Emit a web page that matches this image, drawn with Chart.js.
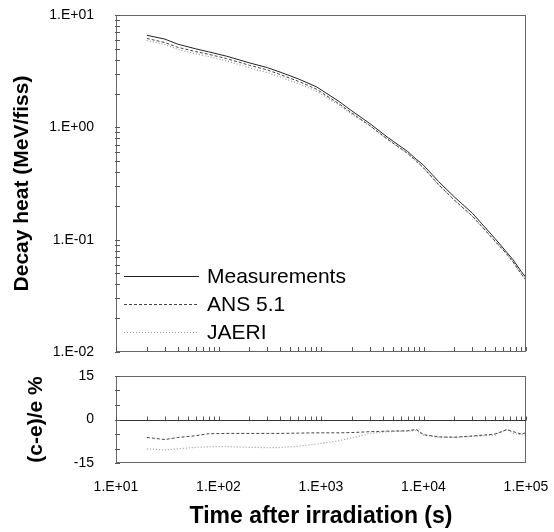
<!DOCTYPE html>
<html lang="en">
<head>
<meta charset="UTF-8">
<title>Decay heat after irradiation</title>
<script src="https://cdn.jsdelivr.net/npm/chart.js"></script>
<style>
  body { margin: 0; background: #fff; }
  #wrap { position: relative; width: 554px; height: 532px; }
  #heatCanvas { position: absolute; left: 0; top: 0; }
  #devCanvas { position: absolute; left: 0; top: 360px; }
</style>
</head>
<body>
<div id="wrap">
  <canvas id="heatCanvas" width="554" height="370" style="width:554px;height:370px"></canvas>
  <canvas id="devCanvas" width="554" height="172" style="width:554px;height:172px"></canvas>
</div>
<script>
// time after irradiation (s)
const times = [20, 30, 40, 60, 80, 120, 200, 300, 400, 600, 900, 1500, 2000, 3000, 4500, 7000, 8500, 10000, 14000, 20000, 30000, 50000, 65000, 75000, 90000, 100000];
// decay heat (MeV/fiss)
const measured = [6.6, 6.1, 5.5, 5.0, 4.7, 4.3, 3.75, 3.4, 3.1, 2.7, 2.3, 1.7, 1.4, 1.08, 0.81, 0.61, 0.52, 0.46, 0.33, 0.24, 0.172, 0.102, 0.077, 0.066, 0.052, 0.046];
const ans51 = [6.19, 5.68, 5.16, 4.72, 4.47, 4.09, 3.57, 3.24, 2.95, 2.57, 2.19, 1.62, 1.34, 1.035, 0.778, 0.586, 0.502, 0.436, 0.310, 0.225, 0.162, 0.097, 0.0743, 0.0632, 0.0494, 0.0439];
const jaeri = [5.93, 5.46, 4.94, 4.52, 4.26, 3.90, 3.39, 3.07, 2.80, 2.45, 2.10, 1.58, 1.31, 1.03, 0.776, 0.586, 0.500, 0.435, 0.310, 0.225, 0.162, 0.0965, 0.0745, 0.0628, 0.0492, 0.0437];
// (c-e)/e in %
const ansDev = [-6.2, -6.9, -6.2, -5.6, -4.9, -4.8, -4.8, -4.8, -4.8, -4.7, -4.6, -4.6, -4.5, -4.2, -4.0, -3.9, -3.4, -5.2, -6.0, -6.1, -5.7, -5.0, -3.5, -4.2, -5.0, -4.6];
const jaeriDev = [-10.1, -10.5, -10.1, -9.6, -9.4, -9.3, -9.6, -9.7, -9.7, -9.2, -8.5, -7.3, -6.3, -4.8, -4.2, -4.0, -3.8, -5.4, -6.1, -6.2, -5.8, -5.4, -3.3, -4.8, -5.3, -5.0];
const devTicks = [-15, -10, -5, 0, 5, 10, 15];
const devLabels = [-15, 0, 15];
const seriesNames = ['Measurements', 'ANS 5.1', 'JAERI'];

const FONT = '"Liberation Sans", Arial, sans-serif';
const styles = [
    { borderColor: '#222', borderWidth: 1, borderDash: [] },
    { borderColor: '#444', borderWidth: 1, borderDash: [3, 2] },
    { borderColor: '#999', borderWidth: 1.2, borderDash: [1, 2] }
];

function pairs(ys) {
    return times.map((t, i) => ({ x: t, y: ys[i] }));
}

// log ticks 1..9 x 10^e between two decades
function logTicks(e0, e1) {
    const out = [];
    for (let e = e0; e < e1; e++) {
        for (let m = 1; m < 10; m++) out.push({ value: Number((m * Math.pow(10, e)).toPrecision(6)) });
    }
    out.push({ value: Math.pow(10, e1) });
    return out;
}

function sciLabel(v) {
    const l = Math.log10(v);
    const e = Math.round(l);
    if (Math.abs(l - e) > 1e-9) return '';
    return '1.E' + (e < 0 ? '-' : '+') + String(Math.abs(e)).padStart(2, '0');
}

// no label overhang padding, keeps the plot box where we want it
function noPad(s) {
    s.paddingTop = 0; s.paddingBottom = 0; s.paddingLeft = 0; s.paddingRight = 0;
}

const framePlugin = {
    id: 'frame',
    afterDraw(chart) {
        const a = chart.chartArea;
        const ctx = chart.ctx;
        ctx.save();
        ctx.strokeStyle = '#666';
        ctx.lineWidth = 1;
        ctx.strokeRect(Math.round(a.left) + 0.5, Math.round(a.top) + 0.5, Math.round(a.right - a.left) - 1, Math.round(a.bottom - a.top) - 1);
        ctx.restore();
    }
};

// short tick marks pointing into the plot
const innerTicksPlugin = {
    id: 'innerTicks',
    afterDraw(chart, args, opts) {
        const a = chart.chartArea;
        const ctx = chart.ctx;
        ctx.save();
        ctx.lineWidth = 1;
        (opts.marks || []).forEach(m => {
            const s = chart.scales[m.scale];
            ctx.strokeStyle = '#555';
            ctx.beginPath();
            if (s.isHorizontal()) {
                const y0 = m.atY !== undefined ? Math.round(chart.scales.y.getPixelForValue(m.atY)) + 0.5 : Math.round(a.bottom) - 1;
                s.ticks.forEach(t => {
                    const p = Math.round(s.getPixelForValue(t.value)) + 0.5;
                    ctx.moveTo(p, y0);
                    ctx.lineTo(p, y0 - 4);
                });
                ctx.stroke();
                if (m.atY !== undefined) {
                    ctx.strokeStyle = '#333';
                    ctx.beginPath();
                    ctx.moveTo(a.left, y0);
                    ctx.lineTo(a.right, y0);
                    ctx.stroke();
                }
            } else {
                const x0 = Math.round(a.left);
                s.ticks.forEach(t => {
                    const p = Math.round(s.getPixelForValue(t.value)) + 0.5;
                    ctx.moveTo(x0 - 1, p);
                    ctx.lineTo(x0 + 4, p);
                });
                ctx.stroke();
            }
        });
        ctx.restore();
    }
};

const legendPlugin = {
    id: 'insideLegend',
    afterDraw(chart) {
        const a = chart.chartArea;
        const ctx = chart.ctx;
        ctx.save();
        ctx.font = '21px ' + FONT;
        ctx.textBaseline = 'middle';
        ctx.fillStyle = '#000';
        chart.data.datasets.forEach((ds, i) => {
            const y = a.top + 261 + i * 28;
            ctx.strokeStyle = ds.borderColor;
            ctx.lineWidth = ds.borderWidth;
            ctx.setLineDash(ds.borderDash);
            ctx.beginPath();
            ctx.moveTo(a.left + 8, y + 0.5);
            ctx.lineTo(a.left + 83, y + 0.5);
            ctx.stroke();
            ctx.setLineDash([]);
            ctx.fillText(ds.label, a.left + 91, y + 1);
        });
        ctx.restore();
    }
};

const heatChart = new Chart(document.getElementById('heatCanvas'), {
    type: 'line',
    data: {
        datasets: [measured, ans51, jaeri].map((ys, i) => Object.assign({
            label: seriesNames[i],
            data: pairs(ys),
            pointRadius: 0,
            tension: 0,
            fill: false
        }, styles[i]))
    },
    options: {
        responsive: false,
        animation: false,
        layout: { padding: { top: 15, right: 28, left: 0, bottom: 0 } },
        plugins: {
            legend: { display: false },
            tooltip: { enabled: false },
            innerTicks: { marks: [{ scale: 'x' }, { scale: 'y' }] }
        },
        scales: {
            x: {
                type: 'logarithmic',
                min: 10, max: 100000,
                afterBuildTicks: s => { s.ticks = logTicks(1, 5); },
                afterFit: s => { s.height = 18; noPad(s); },
                ticks: { display: false, autoSkip: false },
                grid: { display: false },
                border: { display: false }
            },
            y: {
                type: 'logarithmic',
                min: 0.01, max: 10,
                afterBuildTicks: s => { s.ticks = logTicks(-2, 1); },
                afterFit: s => { s.width = 116; noPad(s); },
                ticks: {
                    autoSkip: false, padding: 14, color: '#000',
                    font: { family: FONT, size: 14 },
                    callback: v => sciLabel(v)
                },
                grid: { display: false },
                border: { display: false },
                title: {
                    display: true, text: 'Decay heat (MeV/fiss)', color: '#000',
                    font: { family: FONT, size: 21, weight: 'bold' },
                    padding: { top: 10, bottom: 0 }
                }
            }
        }
    },
    plugins: [framePlugin, innerTicksPlugin, legendPlugin]
});

const devChart = new Chart(document.getElementById('devCanvas'), {
    type: 'line',
    data: {
        datasets: [ansDev, jaeriDev].map((ys, i) => Object.assign({
            label: seriesNames[i + 1],
            data: pairs(ys),
            pointRadius: 0,
            tension: 0,
            fill: false
        }, styles[i + 1]))
    },
    options: {
        responsive: false,
        animation: false,
        layout: { padding: { top: 16, right: 28, left: 0, bottom: 0 } },
        plugins: {
            legend: { display: false },
            tooltip: { enabled: false },
            innerTicks: { marks: [{ scale: 'x', atY: 0 }, { scale: 'y' }] }
        },
        scales: {
            x: {
                type: 'logarithmic',
                min: 10, max: 100000,
                afterBuildTicks: s => { s.ticks = logTicks(1, 5); },
                afterFit: s => { s.height = 69; noPad(s); },
                ticks: {
                    autoSkip: false, maxRotation: 0, padding: 8, color: '#000',
                    font: { family: FONT, size: 14 },
                    callback: v => sciLabel(v)
                },
                grid: { display: false },
                border: { display: false },
                title: {
                    display: true, text: 'Time after irradiation (s)', color: '#000',
                    font: { family: FONT, size: 23, weight: 'bold' },
                    padding: { top: 0, bottom: 2 }
                }
            },
            y: {
                min: -15, max: 15,
                afterBuildTicks: s => { s.ticks = devTicks.map(v => ({ value: v })); },
                afterFit: s => { s.width = 116; noPad(s); },
                ticks: {
                    autoSkip: false, padding: 14, color: '#000',
                    font: { family: FONT, size: 14 },
                    callback: v => devLabels.includes(v) ? String(v) : ''
                },
                grid: { display: false },
                border: { display: false },
                title: {
                    display: true, text: '(c-e)/e %', color: '#000',
                    font: { family: FONT, size: 21, weight: 'bold' },
                    padding: { top: 24, bottom: 0 }
                }
            }
        }
    },
    plugins: [framePlugin, innerTicksPlugin]
});
</script>
</body>
</html>
